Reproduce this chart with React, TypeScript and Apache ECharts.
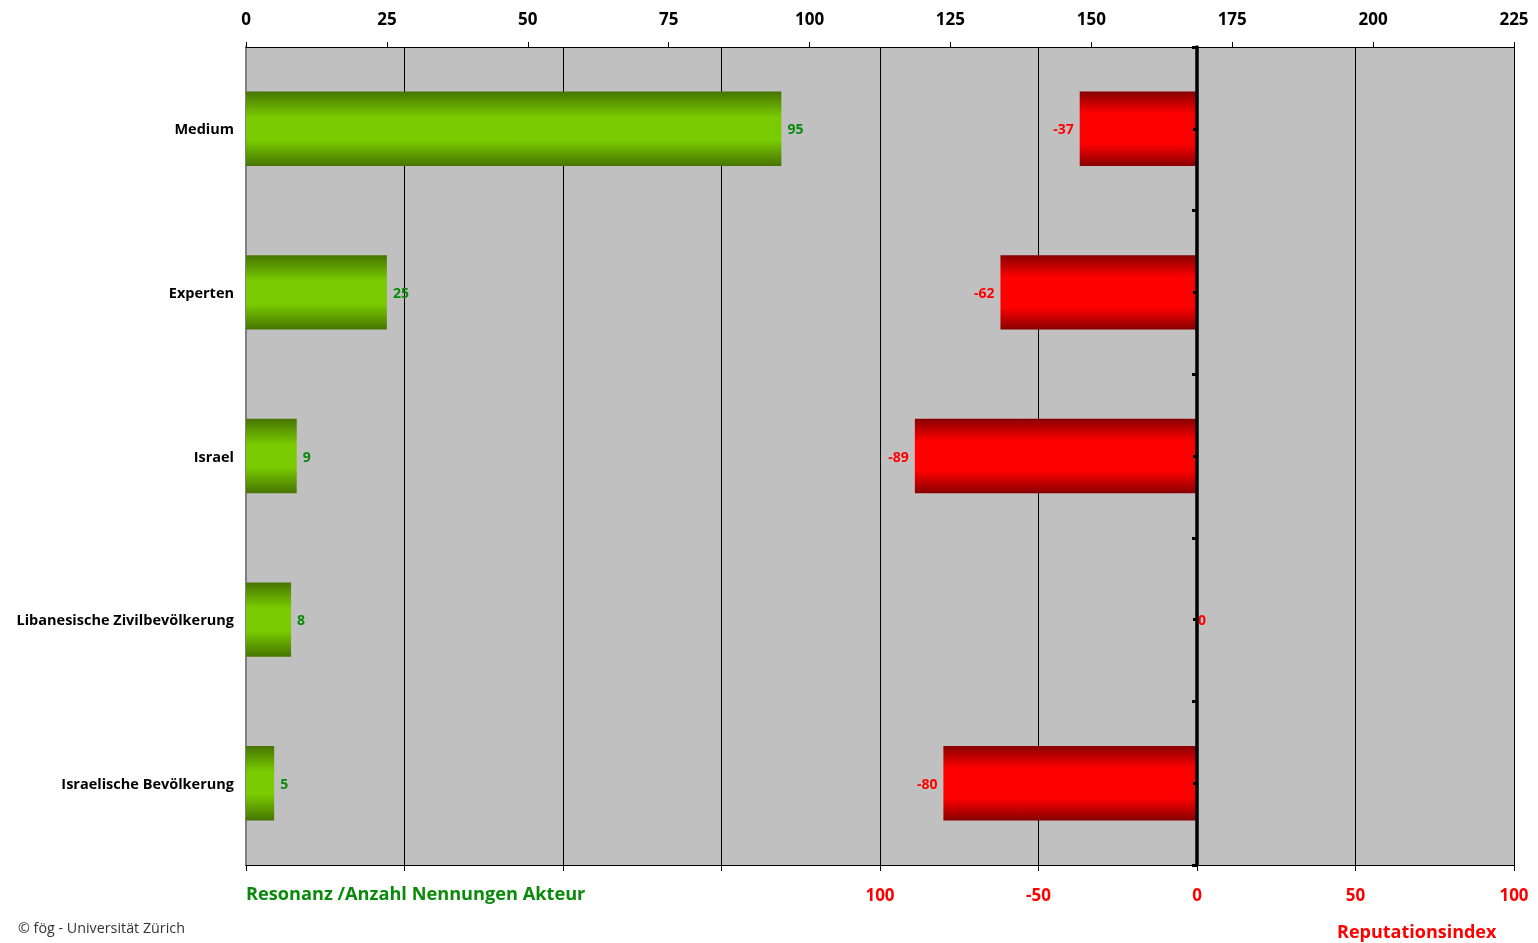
import React, { useEffect, useRef } from "react";
import * as echarts from "echarts";

const categories = [
  "Medium",
  "Experten",
  "Israel",
  "Libanesische Zivilbevölkerung",
  "Israelische Bevölkerung",
];
const resonanz = [95, 25, 9, 8, 5];
const reputation = [-37, -62, -89, 0, -80];
const topTicks = { min: 0, max: 225, interval: 25 };
const bottomTicks = { min: -300, max: 100, interval: 50 };

const FONT = "'Open Sans', 'Noto Sans', sans-serif";
const GREEN_TXT = "#0a8a0a";

export default function App() {
  const ref = useRef<HTMLDivElement>(null);
  useEffect(() => {
    if (!ref.current) return;
    const chart = echarts.init(ref.current, null, { renderer: "svg" });
    const greenGrad = new echarts.graphic.LinearGradient(0, 0, 0, 1, [
      { offset: 0, color: "#467400" },
      { offset: 0.35, color: "#7acc00" },
      { offset: 0.65, color: "#7acc00" },
      { offset: 1, color: "#467400" },
    ]);
    const redGrad = new echarts.graphic.LinearGradient(0, 0, 0, 1, [
      { offset: 0, color: "#880000" },
      { offset: 0.3, color: "#ff0000" },
      { offset: 0.7, color: "#ff0000" },
      { offset: 1, color: "#880000" },
    ]);
    chart.setOption({
      animation: false,
      textStyle: { fontFamily: FONT },
      grid: {
        left: 246,
        right: 24,
        top: 47,
        bottom: 78,
        show: true,
        backgroundColor: "#c0c0c0",
        borderWidth: 0,
      },
      xAxis: [
        {
          type: "value",
          position: "top",
          min: topTicks.min,
          max: topTicks.max,
          interval: topTicks.interval,
          axisLine: { show: true, onZero: false, lineStyle: { color: "#000", width: 1 } },
          axisTick: { show: true, length: 5, lineStyle: { color: "#000" } },
          axisLabel: {
            color: "#000",
            fontWeight: "bold",
            fontSize: 17,
            fontFamily: FONT,
            margin: 20,
          },
          splitLine: { show: false },
        },
        {
          type: "value",
          position: "bottom",
          min: bottomTicks.min,
          max: bottomTicks.max,
          interval: bottomTicks.interval,
          axisLine: { show: true, onZero: false, lineStyle: { color: "#000", width: 1 } },
          axisTick: { show: true, length: 6, lineStyle: { color: "#000" } },
          axisLabel: {
            color: "#ff0000",
            fontWeight: "bold",
            fontSize: 17,
            fontFamily: FONT,
            margin: 21,
            formatter: (v: number) =>
              v < -100 ? "" : v === -100 ? "100" : String(v),
          },
          splitLine: { show: true, lineStyle: { color: "#000", width: 1 } },
        },
      ],
      yAxis: [
        {
          type: "category",
          data: categories,
          inverse: true,
          position: "left",
          axisLine: { show: true, onZero: false, lineStyle: { color: "#808080", width: 2 } },
          axisTick: { show: false },
          axisLabel: {
            color: "#000",
            fontWeight: "bold",
            fontSize: 14.5,
            fontFamily: FONT,
            margin: 12,
          },
          splitLine: { show: false },
        },
        {
          type: "category",
          data: categories,
          inverse: true,
          position: "left",
          axisLine: {
            show: true,
            onZero: true,
            onZeroAxisIndex: 1,
            lineStyle: { color: "#000", width: 3.5 },
          },
          axisTick: { show: true, length: 5, lineStyle: { color: "#000", width: 3 } },
          axisLabel: { show: false },
          splitLine: { show: false },
          z: 10,
        },
        {
          type: "category",
          data: categories,
          inverse: true,
          position: "left",
          axisLine: {
            show: false,
            onZero: true,
            onZeroAxisIndex: 1,
          },
          axisTick: {
            show: true,
            alignWithLabel: true,
            length: 4,
            lineStyle: { color: "#000", width: 3 },
          },
          axisLabel: { show: false },
          splitLine: { show: false },
          z: 10,
        },
      ],
      series: [
        {
          type: "bar",
          name: "Resonanz",
          xAxisIndex: 0,
          yAxisIndex: 0,
          data: resonanz,
          barWidth: "45.5%",
          barGap: "-100%",
          itemStyle: { color: greenGrad },
          label: {
            show: true,
            position: "right",
            distance: 6,
            color: GREEN_TXT,
            fontWeight: "bold",
            fontSize: 14,
            fontFamily: FONT,
          },
          z: 2,
        },
        {
          type: "bar",
          name: "Reputationsindex",
          xAxisIndex: 1,
          yAxisIndex: 0,
          data: reputation.map((v) =>
            v === 0
              ? { value: v, label: { position: "right", distance: 1 } }
              : { value: v }
          ),
          barWidth: "45.5%",
          barGap: "-100%",
          itemStyle: { color: redGrad },
          label: {
            show: true,
            position: "left",
            distance: 6,
            color: "#ff0000",
            fontWeight: "bold",
            fontSize: 14,
            fontFamily: FONT,
          },
          z: 2,
        },
      ],
      graphic: [
        {
          type: "text",
          left: 246,
          top: 884,
          style: {
            text: "Resonanz /Anzahl Nennungen Akteur",
            fill: GREEN_TXT,
            font: `bold 18.2px ${FONT}`,
          },
        },
        {
          type: "text",
          left: 1337,
          top: 922,
          style: {
            text: "Reputationsindex",
            fill: "#ff0000",
            font: `bold 18px ${FONT}`,
          },
        },
        {
          type: "text",
          left: 18,
          top: 920,
          style: {
            text: "© fög - Universität Zürich",
            fill: "#333",
            font: `14.3px ${FONT}`,
          },
        },
      ],
    });
    return () => chart.dispose();
  }, []);
  return (
    <div
      ref={ref}
      style={{ position: "fixed", left: 0, top: 0, width: 1538, height: 943 }}
    />
  );
}
